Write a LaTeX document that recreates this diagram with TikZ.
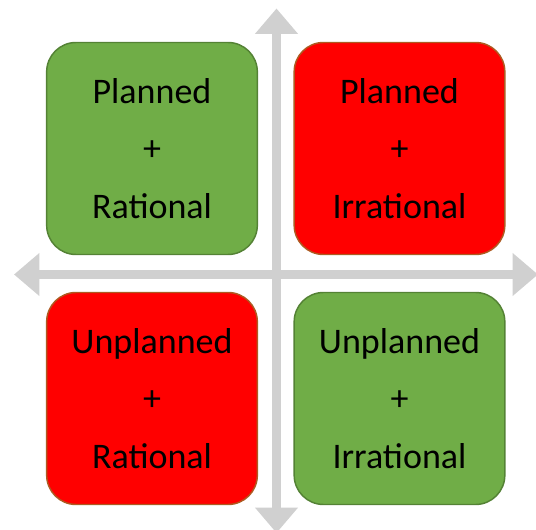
\documentclass[tikz,border=0pt]{standalone}
\usepackage{fontspec}
\setmainfont{Carlito}
\usetikzlibrary{arrows.meta}

\definecolor{quadgreen}{RGB}{112,173,71}
\definecolor{quadgreenedge}{RGB}{84,130,53}
\definecolor{quadred}{RGB}{255,0,0}
\definecolor{quadrededge}{RGB}{174,90,33}
\definecolor{axisgray}{RGB}{208,208,208}

\tikzset{
  quad/.style={rounded corners=22pt, minimum width=158pt, minimum height=159pt,
    inner sep=0pt, line width=1.1pt, align=center,
    font=\fontsize{27}{43}\selectfont},
  goodquad/.style={quad, fill=quadgreen, draw=quadgreenedge},
  badquad/.style={quad, fill=quadred, draw=quadrededge},
  axisline/.style={draw=axisgray, line width=7pt,
    {Triangle[width=31pt,length=19pt]}-{Triangle[width=31pt,length=19pt]}}
}

\begin{document}
\begin{tikzpicture}[x=0.75pt, y=-0.75pt]
    \useasboundingbox (0,0) rectangle (536,530);

    % Axes
    \coordinate (west) at (14,274.5);
    \coordinate (east) at (538,274.5);
    \coordinate (north) at (276.5,8.5);
    \coordinate (south) at (276.5,533);
    \draw[axisline] (west) -- (east);
    \draw[axisline] (south) -- (north);

    % Quadrants
    \node[goodquad] (plannedrational) at (152,148.5) {Planned\\+\\Rational};
    \node[badquad] (plannedirrational) at (399.5,148.5) {Planned\\+\\Irrational};
    \node[badquad] (unplannedrational) at (152,398.5) {Unplanned\\+\\Rational};
    \node[goodquad] (unplannedirrational) at (399.5,398.5) {Unplanned\\+\\Irrational};
\end{tikzpicture}
\end{document}
